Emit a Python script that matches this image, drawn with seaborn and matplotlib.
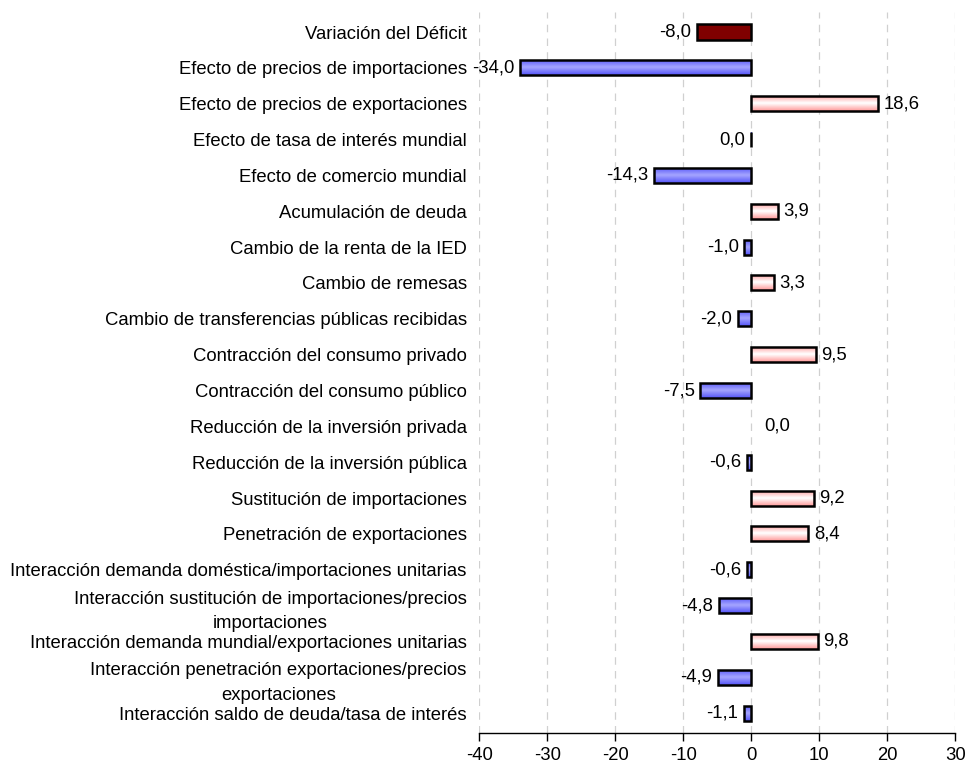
import numpy as np
import pandas as pd
import seaborn as sns
import matplotlib.pyplot as plt
from matplotlib.colors import LinearSegmentedColormap

# ===============================
# Data
# ===============================
categories = [
    "Variación del Déficit",
    "Efecto de precios de importaciones",
    "Efecto de precios de exportaciones",
    "Efecto de tasa de interés mundial",
    "Efecto de comercio mundial",
    "Acumulación de deuda",
    "Cambio de la renta de la IED",
    "Cambio de remesas",
    "Cambio de transferencias públicas recibidas",
    "Contracción del consumo privado",
    "Contracción del consumo público",
    "Reducción de la inversión privada",
    "Reducción de la inversión pública",
    "Sustitución de importaciones",
    "Penetración de exportaciones",
    "Interacción demanda doméstica/importaciones unitarias",
    "Interacción sustitución de importaciones/precios\nimportaciones",
    "Interacción demanda mundial/exportaciones unitarias",
    "Interacción penetración exportaciones/precios\nexportaciones",
    "Interacción saldo de deuda/tasa de interés",
]
values = [-8.0, -34.0, 18.6, -0.04, -14.3, 3.9, -1.0, 3.3, -2.0, 9.5,
          -7.5, 0.0, -0.6, 9.2, 8.4, -0.6, -4.8, 9.8, -4.9, -1.1]
xticks = [-40, -30, -20, -10, 0, 10, 20, 30]

df = pd.DataFrame({"rubro": categories, "valor": values})
labels = [f"{abs(v) if round(v, 1) == 0 else v:.1f}".replace(".", ",") for v in values]

# ===============================
# Plot
# ===============================
sns.set_style("white")
plt.rcParams["font.family"] = ["Liberation Sans", "DejaVu Sans"]
plt.rcParams["axes.unicode_minus"] = False
plt.rcParams["text.color"] = "black"
plt.rcParams["xtick.color"] = "black"
plt.rcParams["ytick.color"] = "black"

fs = 13.3

fig = plt.figure(figsize=(9.66, 7.69), dpi=100)
ax = fig.add_axes([0.496, 0.047, 0.493, 0.937])

sns.barplot(data=df, x="valor", y="rubro", orient="h", color="#7070ff",
            width=0.42, edgecolor="black", linewidth=1.8, ax=ax, zorder=3)

# gradient fills like the spreadsheet original
blue = LinearSegmentedColormap.from_list("b", ["#5555f8", "#a4a4ff"])
pink = LinearSegmentedColormap.from_list("p", ["#ff9a9a", "#ffffff"])
grad = 1 - np.abs(np.linspace(-1, 1, 60))[:, None]
for i, p in enumerate(ax.patches):
    v = values[i]
    if v == 0:
        p.set_linewidth(0)
        continue
    if i == 0:
        p.set_facecolor("#800000")
        continue
    x0, y0, w, h = p.get_x(), p.get_y(), p.get_width(), p.get_height()
    im = ax.imshow(grad, extent=[x0, x0 + w, y0 + h, y0], aspect="auto",
                   cmap=blue if v < 0 else pink, zorder=2.5, interpolation="bilinear")
    im.set_clip_path(p)
    p.set_facecolor("none")

# value labels at bar ends
for i, (v, lab) in enumerate(zip(values, labels)):
    off = -4 if v < 0 else (9 if v == 0 else 4)
    ax.annotate(lab, xy=(v, i), xytext=(off, 0), textcoords="offset points",
                ha="right" if v < 0 else "left", va="center", fontsize=fs)

ax.set_xlim(-40, 30)
ax.set_ylim(len(categories) - 0.45, -0.55)
ax.set_xticks(xticks)
ax.set_xlabel("")
ax.set_ylabel("")
ax.grid(axis="x", color="#d0d0d0", linestyle=(0, (6, 5)), linewidth=0.9, zorder=0)
ax.tick_params(axis="x", direction="out", length=6, width=1, color="black",
               labelsize=fs, pad=4, bottom=True)
ax.tick_params(axis="y", length=0, labelsize=fs, pad=9)
for t in ax.get_yticklabels():
    t.set_multialignment("center")
    t.set_linespacing(1.6)
for s in ["top", "right", "left"]:
    ax.spines[s].set_visible(False)
ax.spines["bottom"].set_color("black")
ax.spines["bottom"].set_linewidth(1)

plt.savefig("out.png", dpi=100)
